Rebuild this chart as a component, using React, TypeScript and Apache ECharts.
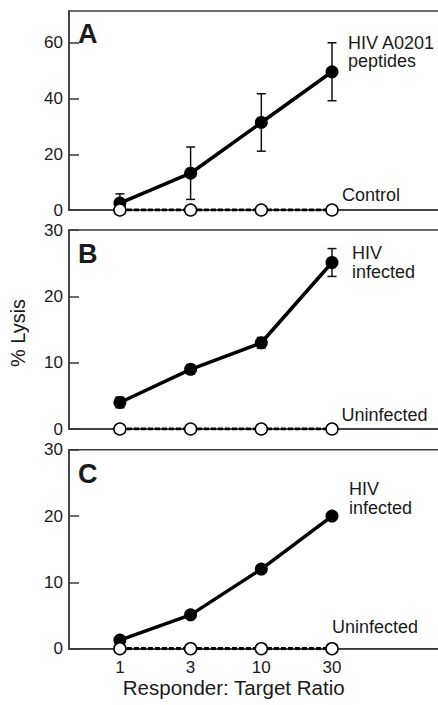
import React, { useEffect, useRef } from "react";
import * as echarts from "echarts";

const xLabels = ["1", "3", "10", "30"];
const xPos = [0, 1, 2, 3];

const hivA = [2.5, 13.2, 31.4, 49.6];
const errA = [3.3, 9.4, 10.3, 10.4];
const controlA = [0, 0, 0, 0];

const hivB = [4.0, 9.0, 13.0, 25.1];
const errB = [0.8, 0.7, 0.8, 2.1];
const uninfB = [0, 0, 0, 0];

const hivC = [1.3, 5.1, 12.0, 20.0];
const uninfC = [0, 0, 0, 0];

const yTicksA = [0, 20, 40, 60];
const yTicksBC = [0, 10, 20, 30];

const FONT = "'Liberation Sans', Arial, Helvetica, sans-serif";
const INK = "#1a1a1a";
const AXIS = "#3a3a3a";

export default function App() {
  const ref = useRef<HTMLDivElement>(null);

  useEffect(() => {
    if (!ref.current) return;
    const chart = echarts.init(ref.current, null, { renderer: "svg" });

    const grids = [
      { left: 69, width: 376, top: 11, height: 199 },
      { left: 69, width: 376, top: 230, height: 199 },
      { left: 69, width: 376, top: 449.7, height: 199 },
    ].map((g) => ({
      ...g,
      show: true,
      outerBoundsMode: "none",
      containLabel: false,
      borderColor: AXIS,
      borderWidth: 1.5,
      backgroundColor: "transparent",
    }));

    const xAxes = [0, 1, 2].map((i) => ({
      type: "value",
      gridIndex: i,
      min: -0.72,
      max: -0.72 + 376 / 70.7,
      axisLine: { show: true, onZero: false, lineStyle: { color: AXIS, width: 1.5 } },
      axisTick: { show: false },
      splitLine: { show: false },
      axisLabel: {
        show: i === 2,
        customValues: xPos,
        formatter: (v: number) => xLabels[Math.round(v)] ?? "",
        fontSize: 17,
        color: INK,
        fontFamily: FONT,
        margin: 10,
      },
    }));

    const yBase = (i: number, max: number, ticks: number[]) => ({
      type: "value",
      gridIndex: i,
      min: 0,
      max,
      axisLine: { show: true, onZero: false, lineStyle: { color: AXIS, width: 1.5 } },
      axisTick: {
        show: true,
        inside: true,
        length: 10,
        customValues: ticks,
        lineStyle: { color: AXIS, width: 1.5 },
      },
      splitLine: { show: false },
      axisLabel: {
        customValues: ticks,
        fontSize: 17,
        color: INK,
        fontFamily: FONT,
        margin: 6,
      },
    });

    const yAxes = [yBase(0, 71.4, yTicksA), yBase(1, 30, yTicksBC), yBase(2, 30, yTicksBC)];

    const errSeries = (idx: number, vals: number[], errs: number[]) => ({
      type: "custom",
      xAxisIndex: idx,
      yAxisIndex: idx,
      silent: true,
      data: xPos.map((x, k) => [x, vals[k] - errs[k], vals[k] + errs[k]]),
      encode: { x: 0, y: [1, 2] },
      renderItem: (params: any, api: any) => {
        const x = api.value(0);
        const lo = api.coord([x, api.value(1)]);
        const hi = api.coord([x, api.value(2)]);
        const w = 4.5;
        const style = { stroke: "#111", lineWidth: 1.5 };
        return {
          type: "group",
          children: [
            { type: "line", shape: { x1: lo[0], y1: lo[1], x2: hi[0], y2: hi[1] }, style },
            { type: "line", shape: { x1: hi[0] - w, y1: hi[1], x2: hi[0] + w, y2: hi[1] }, style },
            { type: "line", shape: { x1: lo[0] - w, y1: lo[1], x2: lo[0] + w, y2: lo[1] }, style },
          ],
        };
      },
    });

    const hivSeries = (idx: number, vals: number[]) => ({
      type: "line",
      xAxisIndex: idx,
      yAxisIndex: idx,
      data: xPos.map((x, k) => [x, vals[k]]),
      symbol: "circle",
      symbolSize: 13,
      showSymbol: true,
      itemStyle: { color: "#000" },
      lineStyle: { color: "#000", width: 3.5 },
    });

    const ctrlSeries = (idx: number, vals: number[]) => ({
      type: "line",
      xAxisIndex: idx,
      yAxisIndex: idx,
      data: xPos.map((x, k) => [x, vals[k]]),
      symbol: "circle",
      symbolSize: 12,
      showSymbol: true,
      itemStyle: { color: "#fff", borderColor: "#000", borderWidth: 1.5 },
      lineStyle: { color: "#000", width: 3.2, type: [5, 2] },
    });

    const txt = (text: string, x: number, y: number, size = 18, weight: any = "normal") => ({
      type: "text",
      x,
      y,
      style: {
        text,
        fontSize: size,
        fontWeight: weight,
        fontFamily: FONT,
        fill: INK,
        align: "left",
        verticalAlign: "middle",
      },
    });

    chart.setOption({
      animation: false,
      grid: grids,
      xAxis: xAxes,
      yAxis: yAxes,
      series: [
        errSeries(0, hivA, errA),
        hivSeries(0, hivA),
        ctrlSeries(0, controlA),
        errSeries(1, hivB, errB),
        hivSeries(1, hivB),
        ctrlSeries(1, uninfB),
        hivSeries(2, hivC),
        ctrlSeries(2, uninfC),
      ],
      graphic: [
        txt("A", 78, 34, 27, "bold"),
        txt("B", 78, 254, 27, "bold"),
        txt("C", 78, 474, 27, "bold"),
        txt("HIV A0201", 348, 42.5),
        txt("peptides", 348, 61),
        txt("Control", 342, 195),
        txt("HIV", 352, 252.8),
        txt("infected", 352, 272),
        txt("Uninfected", 341.5, 414.5),
        txt("HIV", 349, 488.5),
        txt("infected", 349, 507.5),
        txt("Uninfected", 332, 627),
        {
          type: "text",
          x: 18,
          y: 333,
          rotation: Math.PI / 2,
          style: {
            text: "% Lysis",
            fontSize: 20,
            fontFamily: FONT,
            fill: INK,
            align: "center",
            verticalAlign: "middle",
          },
        },
        {
          type: "text",
          x: 233.7,
          y: 687.5,
          style: {
            text: "Responder: Target Ratio",
            fontSize: 20.5,
            fontFamily: FONT,
            fill: INK,
            align: "center",
            verticalAlign: "middle",
          },
        },
      ],
    });

    return () => chart.dispose();
  }, []);

  return (
    <div
      ref={ref}
      style={{ position: "absolute", left: 0, top: 0, width: 438, height: 705 }}
    />
  );
}
